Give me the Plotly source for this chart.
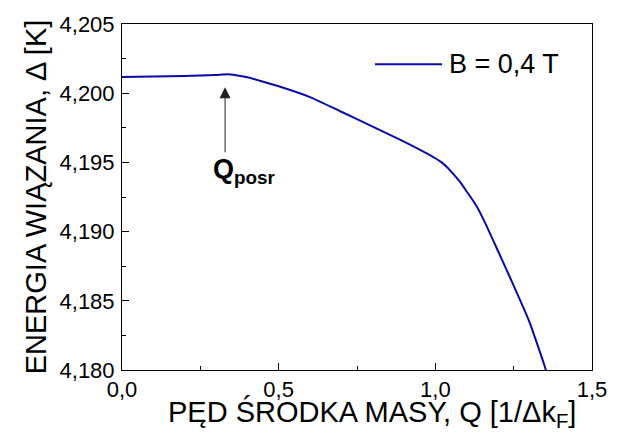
import plotly.graph_objects as go

# Binding energy vs. centre-of-mass momentum, B = 0.4 T
q_values = [0.0, 0.1, 0.2, 0.3, 0.345, 0.4, 0.44, 0.5, 0.6, 0.7, 0.8, 0.9,
            1.0, 1.02, 1.04, 1.06, 1.08, 1.10, 1.13, 1.16, 1.2, 1.25, 1.3,
            1.35, 1.36]
delta_values = [4.20117, 4.20120, 4.20124, 4.20132, 4.20136, 4.20115, 4.20090,
                4.20050, 4.19972, 4.19866, 4.19759, 4.19650, 4.19530, 4.19500,
                4.19460, 4.19410, 4.19355, 4.19290, 4.19190, 4.19058, 4.18860,
                4.18610, 4.18350, 4.18020, 4.17940]

series_name = "B = 0,4 T"
x_ticks = [0.0, 0.5, 1.0, 1.5]
y_ticks = [4.180, 4.185, 4.190, 4.195, 4.200, 4.205]

# Q_posr marker: arrow position (Q) and its tail / tip energies
q_posr = 0.329
arrow_tip = 4.20043
arrow_tail = 4.19562

line_color = "#0a0aa8"
font_family = "Liberation Sans, Arial, sans-serif"

fig = go.Figure()
fig.add_trace(go.Scatter(
    x=q_values, y=delta_values, mode="lines", name=series_name,
    line=dict(color=line_color, width=2, shape="spline", smoothing=0.5),
    showlegend=False,
))

axis_common = dict(
    showgrid=False, zeroline=False, showline=True, linecolor="black",
    linewidth=1, mirror=True, ticks="inside", ticklen=7, tickwidth=1,
    tickcolor="black", tickfont=dict(family=font_family, size=22, color="black"),
)

fig.update_xaxes(
    range=[0, 1.5], tickvals=x_ticks, tickformat=".1f",
    minor=dict(ticks="inside", ticklen=4, tickcolor="black", dtick=0.25, tick0=0),
    **axis_common,
)
fig.update_yaxes(
    range=[4.180, 4.205], tickvals=y_ticks, tickformat=".3f",
    ticklabelstandoff=2,
    minor=dict(ticks="inside", ticklen=4, tickcolor="black", dtick=0.0025, tick0=4.18),
    title=dict(text="ENERGIA WIĄZANIA, Δ [K]",
               font=dict(family=font_family, size=29, color="black"), standoff=4),
    **axis_common,
)

# x-axis title, set slightly right of the plot centre
fig.add_annotation(xref="paper", yref="paper", x=(372 - 122) / 470,
                   y=(370 - 414) / 353, xanchor="center", yanchor="middle",
                   showarrow=False,
                   text="PĘD ŚRODKA MASY, Q [1/Δk<sub>F</sub>]",
                   font=dict(family=font_family, size=29, color="black"))

# Hand-drawn legend entry
fig.add_shape(type="line", xref="paper", yref="paper",
              x0=(375 - 122) / 470, x1=(442 - 122) / 470,
              y0=(370 - 58) / 353, y1=(370 - 58) / 353,
              line=dict(color=line_color, width=2))
fig.add_annotation(xref="paper", yref="paper",
                   x=(447 - 122) / 470, y=(370 - 58) / 353,
                   xanchor="left", yanchor="middle", showarrow=False,
                   text=series_name,
                   font=dict(family=font_family, size=27, color="black"))

# Q_posr arrow and label
fig.add_annotation(x=q_posr, y=arrow_tip, ax=q_posr, ay=arrow_tail,
                   xref="x", yref="y", axref="x", ayref="y",
                   showarrow=True, arrowhead=2, arrowsize=2.2, arrowwidth=1,
                   arrowcolor="#222222", text="")
fig.add_annotation(x=q_posr + 0.062, y=arrow_tail - 0.00125, xref="x", yref="y",
                   showarrow=False, xanchor="center", yanchor="middle",
                   text="<b>Q<sub>posr</sub></b>",
                   font=dict(family=font_family, size=27, color="black"))

fig.update_layout(
    width=630, height=436, separators=", ",
    margin=dict(l=122, r=38, t=17, b=66),
    paper_bgcolor="white", plot_bgcolor="white",
    font=dict(family=font_family, color="black"),
)

fig.write_html("out.html")
